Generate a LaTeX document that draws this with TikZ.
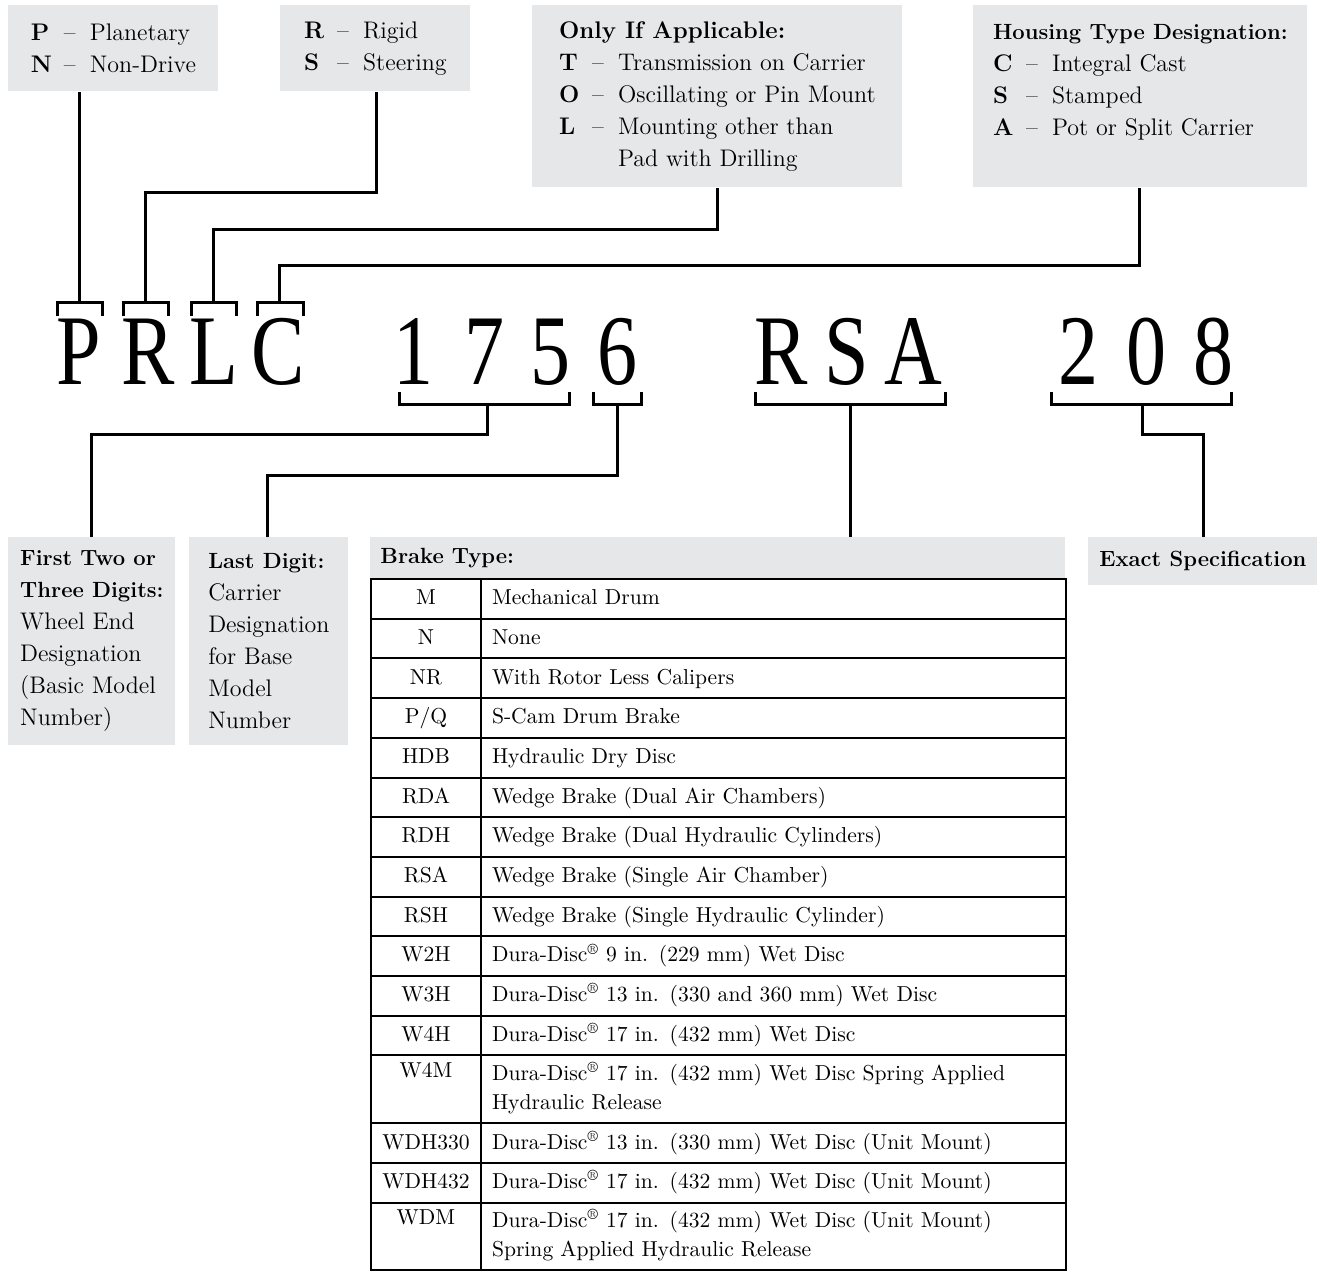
\documentclass[tikz,border=0pt]{standalone}
\usepackage{graphicx}
\usepackage{fontspec}
\usetikzlibrary{positioning,calc}

\newfontfamily\bigserif{Liberation Serif}
\definecolor{boxgray}{HTML}{E6E7E8}
\newcommand{\boxfont}{\fontsize{12}{16}\selectfont}
\newcommand{\cellfont}{\fontsize{10.8}{14.5}\selectfont}
\newcommand{\bigfont}{\bigserif\fontsize{50}{50}\selectfont}
\newcommand{\opt}[2]{\makebox[16.5pt][l]{\textbf{#1}}\makebox[13pt][l]{--}#2}
\newcommand{\hd}[1]{{\fontsize{11}{16}\selectfont\bfseries #1}}
\newcommand{\narrow}[1]{\scalebox{0.8}[1]{#1}}
\newcommand{\duradisc}{Dura-Disc\textsuperscript{\textregistered}}

\tikzset{
  box/.style={fill=boxgray, anchor=north west, align=left, inner sep=0pt, font=\boxfont},
  wire/.style={line width=1.5pt},
  cell/.style={draw, line width=1pt, anchor=north west, inner sep=0pt, font=\cellfont,
    execute at begin node=\noindent\strut, execute at end node=\strut},
  big/.style={anchor=base, inner sep=0pt, font=\bigfont}
}

\begin{document}
\begin{tikzpicture}[x=0.5pt, y=-0.5pt]
    \useasboundingbox (0,0) rectangle (1317,1270);

    % option boxes on top
    \node[box, minimum width=105pt, minimum height=43pt] (pn) at (8,5)
        {\opt{P}{Planetary}\\\opt{N}{Non-Drive}};
    \node[box, minimum width=95pt, minimum height=43pt] (rs) at (280,5)
        {\opt{R}{Rigid}\\\opt{S}{Steering}};
    \node[box, minimum width=185pt, minimum height=91pt] (tol) at (532,5)
        {\textbf{Only If Applicable:}\\\opt{T}{Transmission on Carrier}\\
         \opt{O}{Oscillating or Pin Mount}\\\opt{L}{Mounting other than}\\
         \hspace*{29.5pt}Pad with Drilling};
    \node[box, minimum width=167pt, minimum height=91pt] (csa) at (973,5)
        {\hd{Housing Type Designation:}\\\opt{C}{Integral Cast}\\
         \opt{S}{Stamped}\\\opt{A}{Pot or Split Carrier}\\\mbox{}};

    % model number
    \foreach \x/\c [count=\i] in {79/P,148/R,214/L,278/C,413/1,484/7,550/5,617/6,
                                  781/R,847/S,913/A,1078/2,1146/0,1213/8}
        \node[big] (big\i) at (\x,384) {\narrow{\c}};

    % brackets
    \draw[wire] (57,316) |- (102,302) -- (102,316);
    \draw[wire] (123,316) |- (168,302) -- (168,316);
    \draw[wire] (191,316) |- (236,302) -- (236,316);
    \draw[wire] (257,316) |- (303,302) -- (303,316);
    \draw[wire] (399,392) |- (569,404) -- (569,392);
    \draw[wire] (593,392) |- (641,404) -- (641,392);
    \draw[wire] (755,392) |- (945,404) -- (945,392);
    \draw[wire] (1051,392) |- (1231,404) -- (1231,392);

    % description boxes below
    \node[box, minimum width=83.5pt, minimum height=104pt] (first) at (8,537)
        {\hd{First Two or}\\\hd{Three Digits:}\\Wheel End\\Designation\\
         (Basic Model\\Number)};
    \node[box, minimum width=79.5pt, minimum height=104pt] (last) at (189,537)
        {\hd{Last Digit:}\\Carrier\\Designation\\for Base\\Model\\Number};
    \node[box, minimum width=347.5pt, minimum height=20.5pt, text width=337.5pt,
          inner xsep=5pt] (brake) at (370,537) {\hd{Brake Type:}};
    \node[box, minimum width=114.5pt, minimum height=24pt] (exact) at (1088,537)
        {\hd{Exact Specification}};

    % brake table
    \foreach \y/\h/\code/\desc [count=\i] in {
        578/39.7/M/Mechanical Drum,
        617.7/39.7/N/None,
        657.4/39.7/NR/With Rotor Less Calipers,
        697.1/39.7/{P/Q}/S-Cam Drum Brake,
        736.8/39.7/HDB/Hydraulic Dry Disc,
        776.5/39.7/RDA/Wedge Brake (Dual Air Chambers),
        816.2/39.7/RDH/Wedge Brake (Dual Hydraulic Cylinders),
        855.9/39.7/RSA/Wedge Brake (Single Air Chamber),
        895.6/39.7/RSH/Wedge Brake (Single Hydraulic Cylinder),
        935.3/39.7/W2H/\duradisc{} 9 in. (229 mm) Wet Disc,
        975/39.7/W3H/\duradisc{} 13 in. (330 and 360 mm) Wet Disc,
        1014.7/39.7/W4H/\duradisc{} 17 in. (432 mm) Wet Disc,
        1054.4/68/{W4M\\\mbox{}}/{\duradisc{} 17 in. (432 mm) Wet Disc Spring Applied\\Hydraulic Release},
        1122.4/39.7/WDH330/\duradisc{} 13 in. (330 mm) Wet Disc (Unit Mount),
        1162.1/39.7/WDH432/\duradisc{} 17 in. (432 mm) Wet Disc (Unit Mount),
        1201.8/67/{WDM\\\mbox{}}/{\duradisc{} 17 in. (432 mm) Wet Disc (Unit Mount)\\Spring Applied Hydraulic Release}}
    {
        \node[cell, align=center, minimum width=55pt, minimum height=\h*0.5pt]
            (code\i) at (370,\y) {\code};
        \node[cell, align=left, inner xsep=5.5pt, text width=281.5pt,
              minimum height=\h*0.5pt] (desc\i) at (480,\y) {\desc};
    }

    % connectors
    \coordinate (bP) at (79,302);
    \coordinate (bR) at (145,302);
    \coordinate (bL) at (213,302);
    \coordinate (bC) at (279,302);
    \coordinate (kR) at (376,192);
    \coordinate (kL) at (717,229);
    \coordinate (kC) at (1139,265);
    \draw[wire] (pn.south -| bP) -- (bP);
    \draw[wire] (rs.south -| kR) -- (kR) -| (bR);
    \draw[wire] (tol.south -| kL) -- (kL) -| (bL);
    \draw[wire] (csa.south -| kC) -- (kC) -| (bC);

    \coordinate (b175) at (487,404);
    \coordinate (b6) at (617,404);
    \coordinate (bRSA) at (850,404);
    \coordinate (b208) at (1142,404);
    \coordinate (k175) at (91,434);
    \coordinate (k6) at (267,475);
    \coordinate (k208) at (1203,434);
    \draw[wire] (b175) |- (k175) -- (first.north -| k175);
    \draw[wire] (b6) |- (k6) -- (last.north -| k6);
    \draw[wire] (bRSA) -- (brake.north -| bRSA);
    \draw[wire] (b208) |- (k208) -- (exact.north -| k208);
\end{tikzpicture}
\end{document}
